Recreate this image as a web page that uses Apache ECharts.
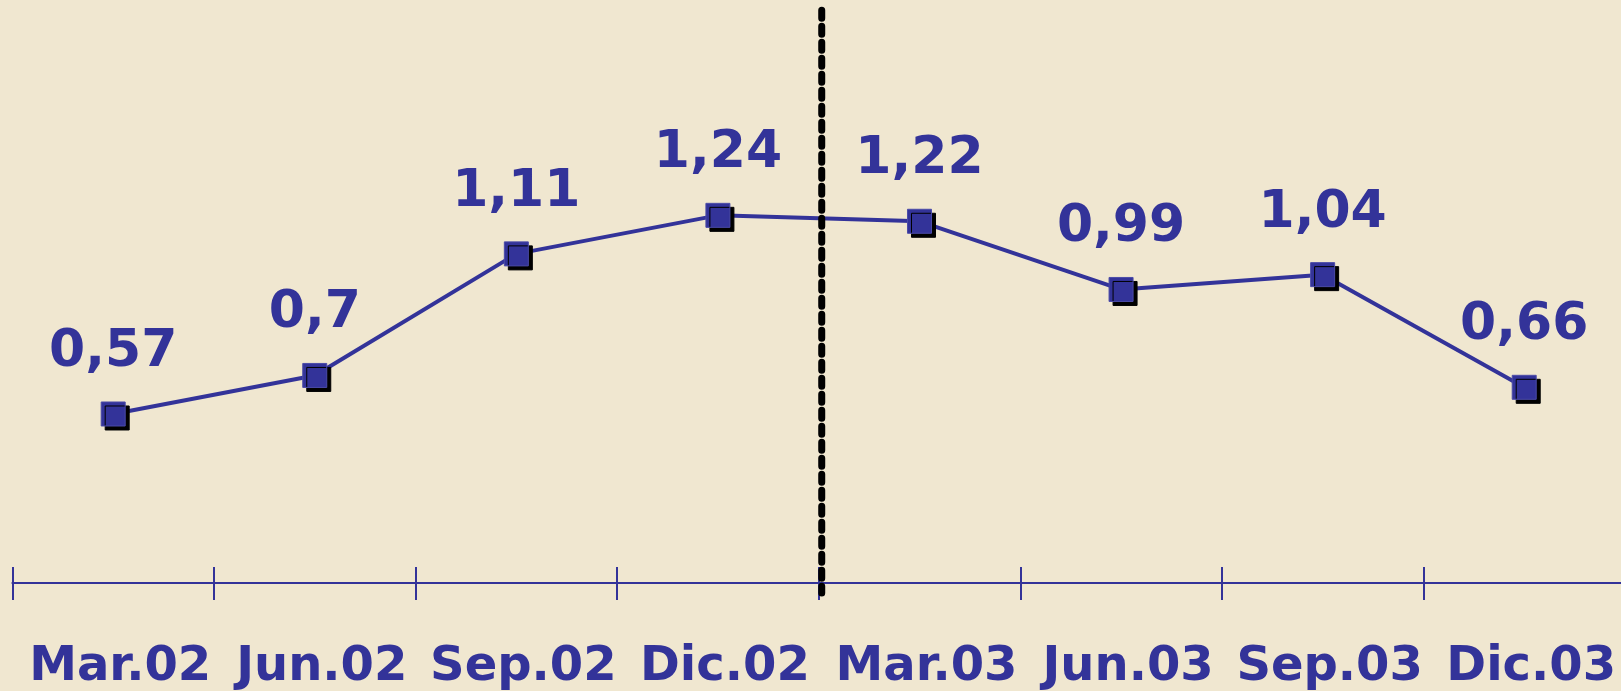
<!DOCTYPE html>
<html>
<head>
<meta charset="utf-8">
<script src="https://cdn.jsdelivr.net/npm/echarts@6/dist/echarts.min.js"></script>
<style>
  html, body { margin: 0; padding: 0; background: #f0e7d0; }
  #chart { width: 1621px; height: 691px; }
</style>
</head>
<body>
<div id="chart"></div>
<script>
// datos
var categories = ['Mar.02', 'Jun.02', 'Sep.02', 'Dic.02', 'Mar.03', 'Jun.03', 'Sep.03', 'Dic.03'];
var values = [0.57, 0.7, 1.11, 1.24, 1.22, 0.99, 1.04, 0.66];
// linea divisoria entre 2002 y 2003 (en eje de posicion 0..8)
var dividerX = 4.015;
var dividerRange = [1.932, -0.034];

var azul = '#333399';
var chart = echarts.init(document.getElementById('chart'));

var option = {
  backgroundColor: '#f0e7d0',
  animation: false,
  grid: { left: 12.4, right: -4, top: -10, bottom: 108, containLabel: false, outerBoundsMode: 'none' },
  xAxis: [{
    type: 'category',
    data: categories,
    boundaryGap: true,
    axisLine: { lineStyle: { color: azul, width: 2 } },
    axisTick: { show: true, inside: false, interval: 0, length: 17, lineStyle: { color: azul, width: 2 } },
    axisLabel: {
      interval: 0,
      margin: 61,
      padding: [0, 0, 0, 14],
      color: azul,
      fontFamily: 'DejaVu Sans',
      fontWeight: 'bold',
      fontSize: 48
    }
  }, {
    type: 'value',
    min: 0,
    max: 8,
    interval: 1,
    position: 'bottom',
    axisLine: { show: false },
    axisTick: { show: true, inside: true, length: 16, lineStyle: { color: azul, width: 2 } },
    axisLabel: { show: false },
    splitLine: { show: false }
  }],
  yAxis: {
    type: 'value',
    min: 0,
    max: 2,
    show: false,
    splitLine: { show: false }
  },
  series: [{
    type: 'line',
    xAxisIndex: 0,
    data: values,
    symbol: 'rect',
    symbolSize: 24,
    lineStyle: { color: azul, width: 4 },
    itemStyle: {
      color: azul,
      borderColor: '#4b4ba8',
      borderWidth: 1,
      shadowColor: '#000',
      shadowOffsetX: 4,
      shadowOffsetY: 4,
      shadowBlur: 0
    },
    label: {
      show: true,
      position: 'top',
      distance: 23,
      color: azul,
      fontFamily: 'DejaVu Sans',
      fontWeight: 'bold',
      fontSize: 52,
      formatter: function (p) { return String(p.value).replace('.', ','); }
    },
    z: 3
  }, {
    type: 'line',
    xAxisIndex: 1,
    data: [[dividerX, dividerRange[0]], [dividerX, dividerRange[1]]],
    symbol: 'none',
    clip: false,
    lineStyle: { color: '#000', width: 7, type: [8, 8], cap: 'round' },
    z: 5
  }]
};
chart.setOption(option);
</script>
</body>
</html>
